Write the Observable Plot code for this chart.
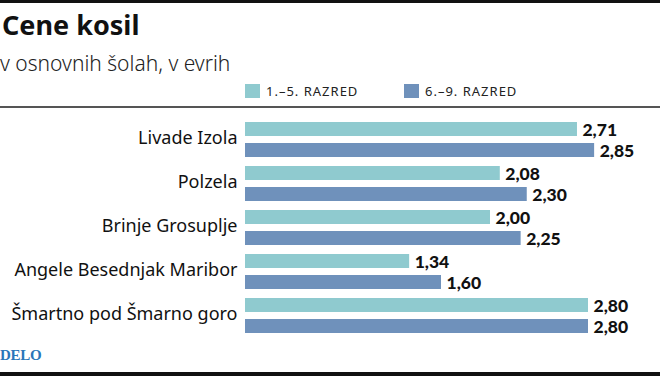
<!DOCTYPE html>
<html>
<head>
<meta charset="utf-8">
<script src="https://cdn.jsdelivr.net/npm/d3@7"></script>
<script src="https://cdn.jsdelivr.net/npm/@observablehq/plot@0.6"></script>
<style>
  html, body { margin: 0; padding: 0; background: #fff; }
  #wrap { position: relative; width: 660px; height: 376px; overflow: hidden; background: #fff; font-family: "Noto Sans", sans-serif; color: #111; }
  .topbar { position: absolute; left: 0; top: 0; width: 660px; height: 3px; background: #111; }
  .botbar { position: absolute; left: 0; top: 372px; width: 660px; height: 4px; background: #111; }
  .rule { position: absolute; left: 0; top: 106px; width: 660px; height: 2px; background: #555; }
  #title { position: absolute; left: 2px; top: 7px; font-size: 27px; font-weight: 700; line-height: 36px; white-space: nowrap; }
  #subtitle { position: absolute; left: 0px; top: 49px; font-size: 21px; font-weight: 300; line-height: 28px; color: #222; white-space: nowrap; }
  .leg { position: absolute; top: 84px; height: 14px; display: flex; align-items: center; font-size: 13px; letter-spacing: 1px; white-space: nowrap; color: #222; }
  .sw { width: 15px; height: 14px; margin-right: 6px; }
  #plot { position: absolute; left: 0; top: 108px; }
  #source { position: absolute; left: 0; top: 347px; font-family: "Liberation Serif", serif; font-weight: 700; font-size: 15px; color: #2a76b9; letter-spacing: -0.3px; }
</style>
</head>
<body>
<div id="wrap">
  <div class="topbar"></div>
  <div id="title">Cene kosil</div>
  <div id="subtitle">v osnovnih šolah, v evrih</div>
  <div id="legend"></div>
  <div class="rule"></div>
  <div id="plot"></div>
  <div id="source">DELO</div>
  <div class="botbar"></div>
</div>
<script>
const schools = ["Livade Izola", "Polzela", "Brinje Grosuplje", "Angele Besednjak Maribor", "Šmartno pod Šmarno goro"];
const grade1to5 = [2.71, 2.08, 2.00, 1.34, 2.80];
const grade6to9 = [2.85, 2.30, 2.25, 1.60, 2.80];
const seriesNames = ["1.–5. RAZRED", "6.–9. RAZRED"];
const seriesColors = ["#8fcacf", "#6f91bb"];

const legendX = [245, 404];
const legend = document.getElementById("legend");
seriesNames.forEach((name, i) => {
  const d = document.createElement("div");
  d.className = "leg";
  d.style.left = legendX[i] + "px";
  d.innerHTML = `<div class="sw" style="background:${seriesColors[i]}"></div><span>${name}</span>`;
  legend.appendChild(d);
});

const light = schools.map((s, i) => ({school: s, value: grade1to5[i]}));
const dark = schools.map((s, i) => ({school: s, value: grade6to9[i]}));
const fmt = v => v.toFixed(2).replace(".", ",");
const valueFont = "Lato, 'Noto Sans', sans-serif";

const chart = Plot.plot({
  width: 660,
  height: 230,
  marginLeft: 245,
  marginRight: 47.5,
  marginTop: 13,
  marginBottom: 5,
  style: {fontFamily: "'Noto Sans', sans-serif", background: "#fff", color: "#111"},
  x: {domain: [0, 3], axis: null},
  y: {domain: schools, paddingInner: 0.209, paddingOuter: 0, label: null},
  marks: [
    Plot.axisY({tickSize: 0, tickPadding: 8, fontSize: 18, dy: -2, label: null, fill: "#111"}),
    Plot.barX(light, {y: "school", x: "value", fill: seriesColors[0], insetBottom: 21}),
    Plot.barX(dark, {y: "school", x: "value", fill: seriesColors[1], insetTop: 21}),
    Plot.text(light, {y: "school", x: "value", text: d => fmt(d.value), textAnchor: "start", dx: 5, dy: -9.5, fontSize: 17.5, fontFamily: valueFont, fontWeight: "900", fill: "#111"}),
    Plot.text(dark, {y: "school", x: "value", text: d => fmt(d.value), textAnchor: "start", dx: 5, dy: 11.5, fontSize: 17.5, fontFamily: valueFont, fontWeight: "900", fill: "#111"})
  ]
});
document.getElementById("plot").appendChild(chart);
</script>
</body>
</html>
